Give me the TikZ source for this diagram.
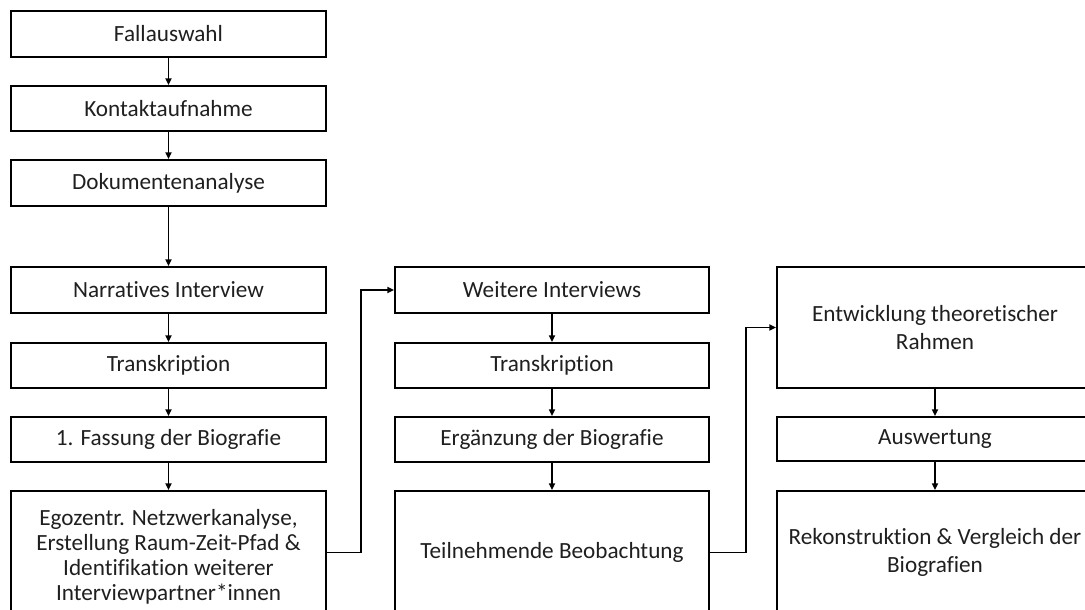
\documentclass[tikz,border=0pt]{standalone}
\usepackage{fontspec}
\setmainfont{Carlito}[Ligatures={NoCommon,NoRequired,NoContextual}]
\usetikzlibrary{arrows.meta}
\begin{document}
\begin{tikzpicture}[x=0.75pt,y=-0.75pt,
  stepbox/.style={draw=black,line width=1.5pt,inner sep=0pt,align=center,
    font=\fontsize{17.4}{20}\selectfont,text=black!88},
  flow/.style={line width=1.2pt,-{Triangle[length=5pt,width=4.5pt]}}]
\useasboundingbox (0,0) rectangle (1085,610);
\clip (0,0) rectangle (1085,610);
% column 1
\node[stepbox,minimum width=315*0.75pt,minimum height=46*0.75pt] (fall) at (168.5,34) {Fallauswahl};
\node[stepbox,minimum width=315*0.75pt,minimum height=45*0.75pt] (kont) at (168.5,108.5) {Kontaktaufnahme};
\node[stepbox,minimum width=315*0.75pt,minimum height=46*0.75pt] (doku) at (168.5,183) {Dokumentenanalyse};
\node[stepbox,minimum width=315*0.75pt,minimum height=46*0.75pt] (narr) at (168.5,290) {Narratives Interview};
\node[stepbox,minimum width=315*0.75pt,minimum height=45*0.75pt] (tra1) at (168.5,365.5) {Transkription};
\node[stepbox,minimum width=315*0.75pt,minimum height=45*0.75pt] (fass) at (168.5,439.5) {1. Fassung der Biografie};
\node[stepbox,minimum width=315*0.75pt,minimum height=123*0.75pt] (ego) at (168.5,552.5) {};
\node[align=center,inner sep=0pt,font=\fontsize{17.4}{18.6}\selectfont,text=black!88] (egotext) at (168.5,557)
  {Egozentr. Netzwerkanalyse,\\Erstellung Raum-Zeit-Pfad \&\\Identifikation weiterer\\Interviewpartner*innen};
% column 2
\node[stepbox,minimum width=314*0.75pt,minimum height=46*0.75pt] (weit) at (552,290) {Weitere Interviews};
\node[stepbox,minimum width=314*0.75pt,minimum height=45*0.75pt] (tra2) at (552,365.5) {Transkription};
\node[stepbox,minimum width=314*0.75pt,minimum height=45*0.75pt] (ergz) at (552,439.5) {Ergänzung der Biografie};
\node[stepbox,minimum width=314*0.75pt,minimum height=123*0.75pt] (teil) at (552,552.5) {Teilnehmende Beobachtung};
% column 3
\node[stepbox,minimum width=316*0.75pt,minimum height=121*0.75pt,font=\fontsize{17.4}{20.5}\selectfont] (entw) at (935,327.5) {Entwicklung theoretischer\\Rahmen};
\node[stepbox,minimum width=316*0.75pt,minimum height=44*0.75pt] (ausw) at (935,439) {Auswertung};
\node[stepbox,minimum width=316*0.75pt,minimum height=123*0.75pt,font=\fontsize{17.4}{20.5}\selectfont] (rek) at (935,552.5) {Rekonstruktion \& Vergleich der\\Biografien};
% vertical steps
\draw[flow] (fall) -- (kont);
\draw[flow] (kont) -- (doku);
\draw[flow] (doku) -- (narr);
\draw[flow] (narr) -- (tra1);
\draw[flow] (tra1) -- (fass);
\draw[flow] (fass) -- (ego);
\draw[flow] (weit) -- (tra2);
\draw[flow] (tra2) -- (ergz);
\draw[flow] (ergz) -- (teil);
\draw[flow] (entw) -- (ausw);
\draw[flow] (ausw) -- (rek);
% links between columns
\draw[flow] (ego.east) -- ++(34,0) |- (weit.west);
\draw[flow] (teil.east) -- ++(36,0) |- (entw.west);
\end{tikzpicture}
\end{document}
